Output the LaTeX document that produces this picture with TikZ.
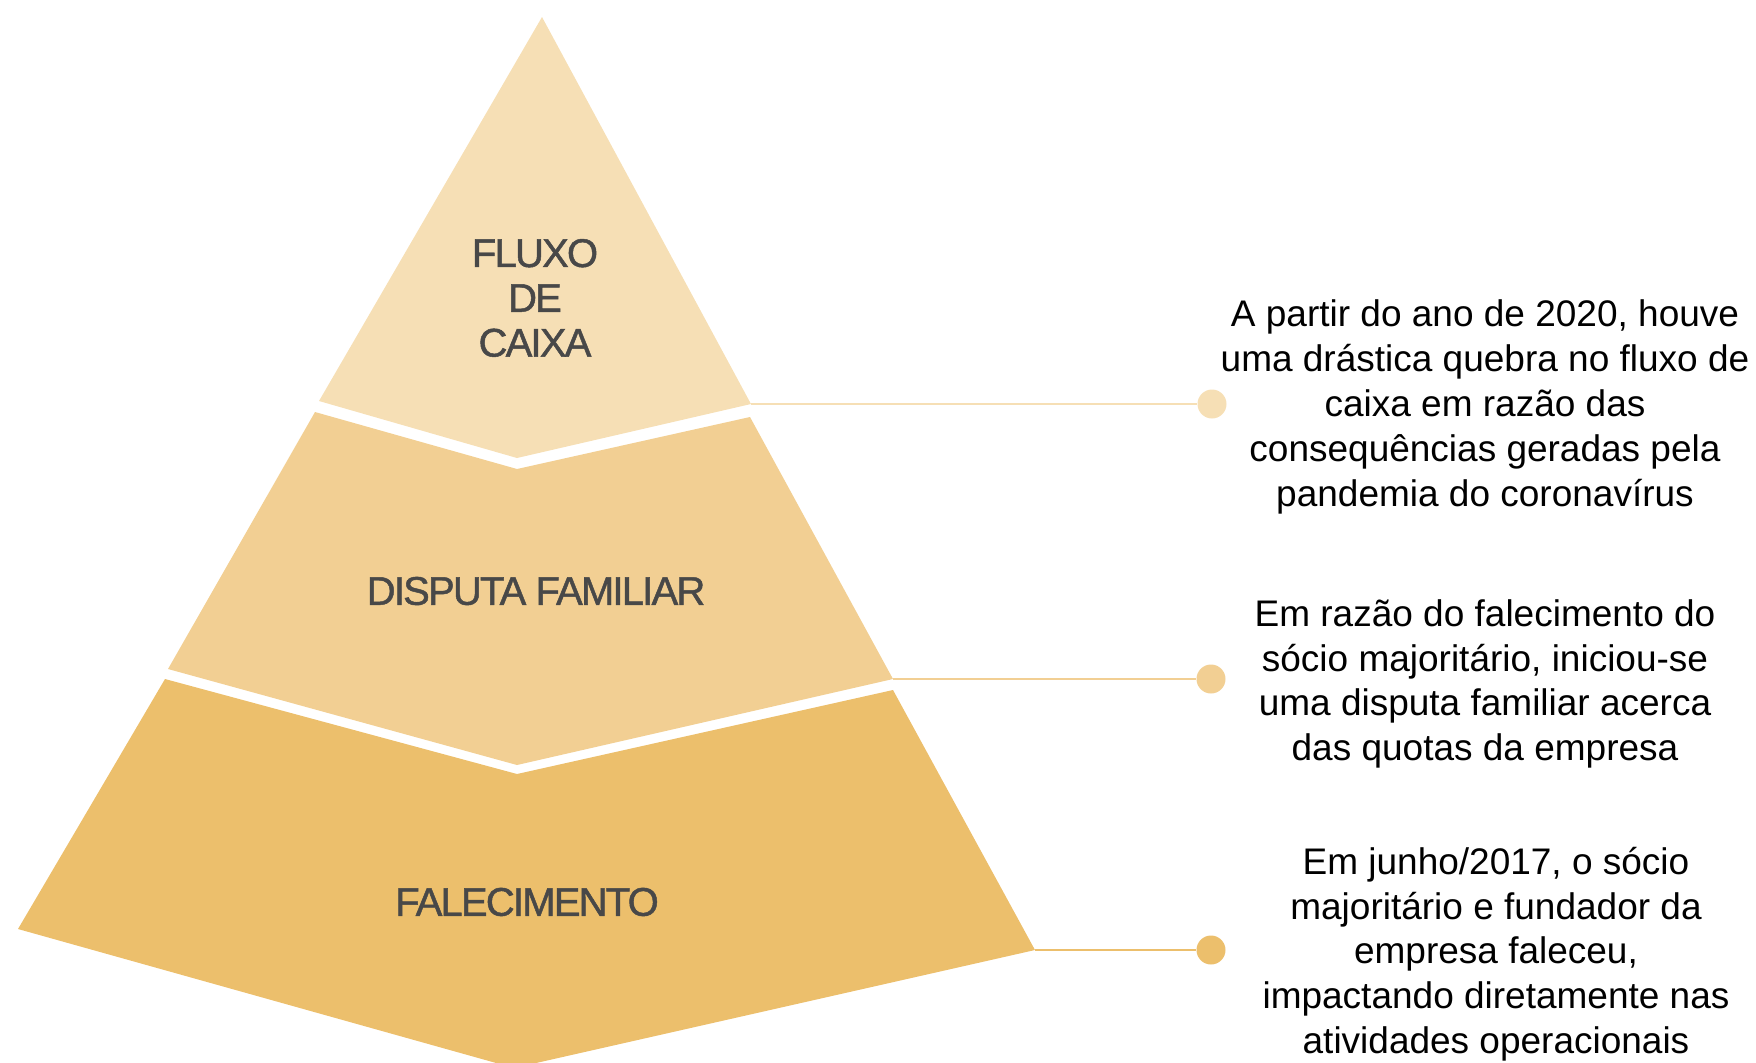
\documentclass[tikz,border=0pt]{standalone}
\usepackage{fontspec}
\setmainfont{Liberation Sans}
\newfontfamily\lblfont[LetterSpace=-4.5,FakeBold=1.2]{Liberation Sans}
\usepackage{tikz}
\definecolor{lvlone}{RGB}{246,223,181}
\definecolor{lvltwo}{RGB}{242,207,147}
\definecolor{lvlthree}{RGB}{236,191,108}
\definecolor{lblgray}{RGB}{72,72,72}

\begin{document}
\begin{tikzpicture}[x=0.5pt,y=-0.5pt,
  lbl/.style={align=center,text=lblgray,inner sep=0pt,font=\lblfont\fontsize{20}{22.4}\selectfont},
  desc/.style={align=center,inner sep=0pt,font=\fontsize{18.5}{22.4}\selectfont},
  dot/.style={circle,inner sep=0pt,minimum size=14.5pt},
  link/.style={line width=1.2pt}]
\useasboundingbox (0,0) rectangle (1756,1062);
% pyramid layers
\fill[lvlone] (542,17) -- (319,401) -- (517,458) -- (751,404) -- cycle;
\fill[lvltwo] (315,412) -- (168,669) -- (517,765) -- (893,679) -- (750,417) -- (517,469) -- cycle;
\fill[lvlthree] (165,679) -- (18,929) -- (514,1068) -- (1035,950) -- (893,690) -- (517,774) -- cycle;
\coordinate (c1) at (751,404);
\coordinate (c2) at (893,679);
\coordinate (c3) at (1035,950);
\node (l1) at (535,298) [lbl] {FLUXO\\DE\\CAIXA};
\node (l2) at (536,591) [lbl] {DISPUTA FAMILIAR};
\node (l3) at (527,902) [lbl] {FALECIMENTO};
% dots and links
\node (d1) at (1212,404) [dot,fill=lvlone] {};
\node (d2) at (1211,679) [dot,fill=lvltwo] {};
\node (d3) at (1211,950) [dot,fill=lvlthree] {};
\draw[link,lvlone] (c1) -- (d1);
\draw[link,lvltwo] (c2) -- (d2);
\draw[link,lvlthree] (c3) -- (d3);
% descriptions
\node (t1) at (1485,407) [desc] {A partir do ano de 2020, houve\\uma drástica quebra no fluxo de\\caixa em razão das\\consequências geradas pela\\pandemia do coronavírus};
\node (t2) at (1485,684) [desc] {Em razão do falecimento do\\sócio majoritário, iniciou-se\\uma disputa familiar acerca\\das quotas da empresa};
\node (t3) at (1496,954) [desc] {Em junho/2017, o sócio\\majoritário e fundador da\\empresa faleceu,\\impactando diretamente nas\\atividades operacionais};
\end{tikzpicture}
\end{document}
